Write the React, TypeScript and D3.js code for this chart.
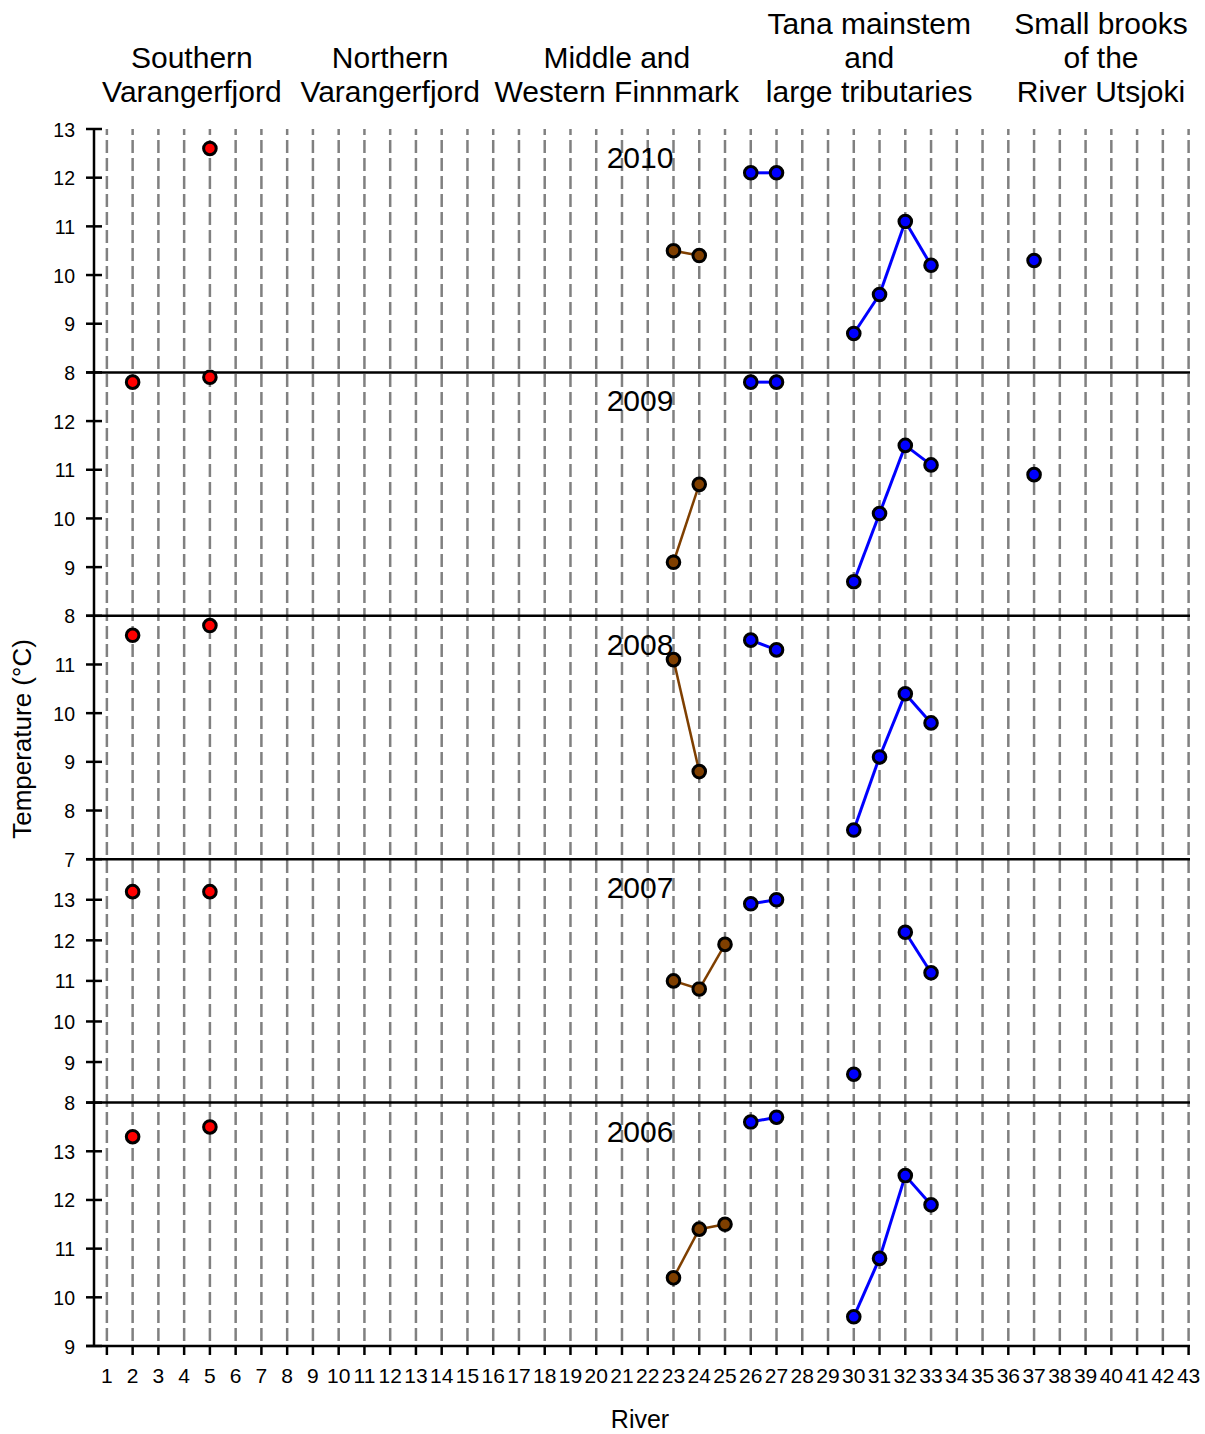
import React, { useEffect, useRef } from 'react';
import * as d3 from 'd3';

// panels, top to bottom
const years = [2010, 2009, 2008, 2007, 2006];
const yDomains: [number, number][] = [[8, 13], [8, 13], [7, 12], [8, 14], [9, 14]];
const yTicks = [
    [8, 9, 10, 11, 12, 13],
    [8, 9, 10, 11, 12],
    [7, 8, 9, 10, 11],
    [8, 9, 10, 11, 12, 13],
    [9, 10, 11, 12, 13],
];

// river numbers per region group
const southernRivers = [2, 5];
const middleRivers = [23, 24, 25];
const tanaRivers = [26, 27, 30, 31, 32, 33];
const brookRivers = [37];

// mean temperatures per year (same order as years), null = no sample
const southernValues = [
    [null, 12.6],
    [12.8, 12.9],
    [11.6, 11.8],
    [13.2, 13.2],
    [13.3, 13.5],
];
const middleValues = [
    [10.5, 10.4, null],
    [9.1, 10.7, null],
    [11.1, 8.8, null],
    [11.0, 10.8, 11.9],
    [10.4, 11.4, 11.5],
];
const tanaValues = [
    [12.1, 12.1, 8.8, 9.6, 11.1, 10.2],
    [12.8, 12.8, 8.7, 10.1, 11.5, 11.1],
    [11.5, 11.3, 7.6, 9.1, 10.4, 9.8],
    [12.9, 13.0, 8.7, null, 12.2, 11.2],
    [13.6, 13.7, 9.6, 10.8, 12.5, 11.9],
];
const brookValues = [[10.3], [10.9], [null], [null], [null]];

const regionLabels = [
    { river: 4.3, lines: ['Southern', 'Varangerfjord'] },
    { river: 12.0, lines: ['Northern', 'Varangerfjord'] },
    { river: 20.8, lines: ['Middle and', 'Western Finnmark'] },
    { river: 30.6, lines: ['Tana mainstem', 'and', 'large tributaries'] },
    { river: 39.6, lines: ['Small brooks', 'of the', 'River Utsjoki'] },
];

const riverTicks = d3.range(1, 44);

const W = 1205;
const H = 1434;
const FONT = 'Liberation Sans, Arial, sans-serif';

const App = () => {
    const ref = useRef<SVGSVGElement>(null);

    useEffect(() => {
        const svg = d3.select(ref.current);
        svg.selectAll('*').remove();

        const top = 129;
        const bottom = 1346;
        const panelH = (bottom - top) / years.length;
        const axisX = 94;

        const x = d3.scaleLinear().domain([0.5, 43]).range([axisX, 1188.6]);

        // dashed vertical grid
        svg.append('g')
            .selectAll('line')
            .data(riverTicks)
            .enter()
            .append('line')
            .attr('x1', d => x(d)).attr('x2', d => x(d))
            .attr('y1', top).attr('y2', bottom)
            .attr('stroke', '#808080')
            .attr('stroke-width', 2.5)
            .attr('stroke-dasharray', '13,5')
            .attr('stroke-dashoffset', 7);

        // region headers
        regionLabels.forEach(r => {
            const n = r.lines.length;
            r.lines.forEach((t, i) => {
                svg.append('text')
                    .attr('x', x(r.river))
                    .attr('y', 102 - (n - 1 - i) * 34)
                    .attr('text-anchor', 'middle')
                    .attr('font-family', FONT)
                    .attr('font-size', 30)
                    .attr('fill', '#000')
                    .text(t);
            });
        });

        const groups = [
            { rivers: southernRivers, values: southernValues, fill: '#ff0000', line: '#ff0000', width: 2 },
            { rivers: middleRivers, values: middleValues, fill: '#7f3f00', line: '#7f3f00', width: 2.5 },
            { rivers: tanaRivers, values: tanaValues, fill: '#0000ff', line: '#0000ff', width: 3 },
            { rivers: brookRivers, values: brookValues, fill: '#0000ff', line: '#0000ff', width: 3 },
        ];

        years.forEach((year, p) => {
            const y0 = top + p * panelH;
            const y = d3.scaleLinear().domain(yDomains[p]).range([y0 + panelH, y0]);
            const g = svg.append('g');

            // ticks on y axis
            const ticks = yTicks[p];
            g.selectAll('line.tick')
                .data(ticks)
                .enter()
                .append('line')
                .attr('x1', axisX - 8).attr('x2', axisX + 8)
                .attr('y1', d => y(d)).attr('y2', d => y(d))
                .attr('stroke', '#000')
                .attr('stroke-width', 2.5);
            g.selectAll('text.tick')
                .data(ticks)
                .enter()
                .append('text')
                .attr('x', 75)
                .attr('y', d => y(d) + 7.5)
                .attr('text-anchor', 'end')
                .attr('font-family', FONT)
                .attr('font-size', 19.5)
                .text(d => d);

            // panel bottom line
            g.append('line')
                .attr('x1', axisX - 8).attr('x2', 1190)
                .attr('y1', y0 + panelH).attr('y2', y0 + panelH)
                .attr('stroke', '#000')
                .attr('stroke-width', 2.5);

            g.append('text')
                .attr('x', x(21.7))
                .attr('y', y0 + 39)
                .attr('text-anchor', 'middle')
                .attr('font-family', FONT)
                .attr('font-size', 30)
                .text(year);

            groups.forEach(grp => {
                const pts = grp.rivers
                    .map((r, i) => ({ r, v: grp.values[p][i] }))
                    .filter(d => d.v !== null) as { r: number; v: number }[];

                // connect only neighbouring rivers
                const segs: [typeof pts[0], typeof pts[0]][] = [];
                for (let i = 1; i < pts.length; i++) {
                    if (pts[i].r - pts[i - 1].r === 1) segs.push([pts[i - 1], pts[i]]);
                }
                g.selectAll(null)
                    .data(segs)
                    .enter()
                    .append('line')
                    .attr('x1', d => x(d[0].r)).attr('y1', d => y(d[0].v))
                    .attr('x2', d => x(d[1].r)).attr('y2', d => y(d[1].v))
                    .attr('stroke', grp.line)
                    .attr('stroke-width', grp.width);

                g.selectAll(null)
                    .data(pts)
                    .enter()
                    .append('circle')
                    .attr('cx', d => x(d.r))
                    .attr('cy', d => y(d.v))
                    .attr('r', 6.3)
                    .attr('fill', grp.fill)
                    .attr('stroke', '#000')
                    .attr('stroke-width', 3);
            });
        });

        // y axis line
        svg.append('line')
            .attr('x1', axisX).attr('x2', axisX)
            .attr('y1', top).attr('y2', bottom)
            .attr('stroke', '#000')
            .attr('stroke-width', 2.5);

        // x axis ticks + labels
        const xa = svg.append('g');
        xa.selectAll('line')
            .data(riverTicks)
            .enter()
            .append('line')
            .attr('x1', d => x(d)).attr('x2', d => x(d))
            .attr('y1', bottom).attr('y2', bottom + 9)
            .attr('stroke', '#000')
            .attr('stroke-width', 2.5);
        xa.selectAll('text')
            .data(riverTicks)
            .enter()
            .append('text')
            .attr('x', d => x(d))
            .attr('y', 1383)
            .attr('text-anchor', 'middle')
            .attr('font-family', FONT)
            .attr('font-size', 21)
            .text(d => d);

        svg.append('text')
            .attr('x', x(21.7))
            .attr('y', 1428)
            .attr('text-anchor', 'middle')
            .attr('font-family', FONT)
            .attr('font-size', 25)
            .text('River');

        svg.append('text')
            .attr('transform', 'translate(31,739) rotate(-90)')
            .attr('text-anchor', 'middle')
            .attr('font-family', FONT)
            .attr('font-size', 26)
            .text('Temperature (°C)');
    }, []);

    return (
        <div style={{ position: 'absolute', left: 0, top: 0 }}>
            <svg ref={ref} width={W} height={H} style={{ display: 'block', background: '#fff' }} />
        </div>
    );
};

export default App;
